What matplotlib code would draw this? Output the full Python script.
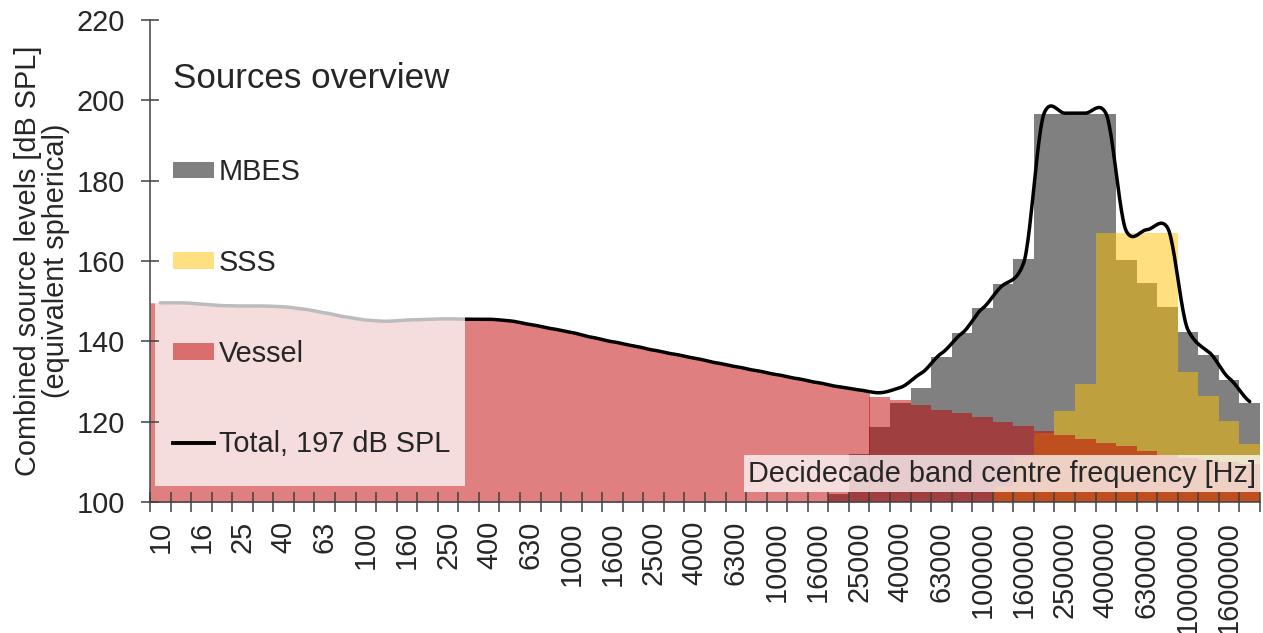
import numpy as np
import matplotlib
matplotlib.use("Agg")
import matplotlib.pyplot as plt
from matplotlib.patches import Patch, Rectangle
from matplotlib.lines import Line2D

plt.rcParams['font.family'] = ['Liberation Sans', 'DejaVu Sans']

# ---------------- data ----------------
bands = ["10", "12.5", "16", "20", "25", "31.5", "40", "50", "63", "80",
         "100", "125", "160", "200", "250", "315", "400", "500", "630", "800",
         "1000", "1250", "1600", "2000", "2500", "3150", "4000", "5000", "6300", "8000",
         "10000", "12500", "16000", "20000", "25000", "31500", "40000", "50000", "63000", "80000",
         "100000", "125000", "160000", "200000", "250000", "315000", "400000", "500000", "630000", "800000",
         "1000000", "1250000", "1600000", "2000000"]

nan = np.nan
mbes = [nan] * 33 + [102.0, 112.0, 118.7, 124.6, 128.3, 136.2, 142.0, 148.2, 154.2, 160.4,
                     196.6, 196.6, 196.6, 196.6, 160.2, 154.4, 148.6, 142.4, 136.6, 130.4, 124.6]

sss = [nan] * 41 + [104.0, 111.1, 117.2, 122.7, 129.5, 166.9, 166.9, 166.9, 166.9,
                    132.3, 126.4, 120.2, 114.4]

vessel = [149.6, 149.6, 149.3, 148.9, 148.8, 148.8, 148.6, 148.0, 147.1, 146.1,
          145.3, 145.0, 145.3, 145.5, 145.6, 145.5, 145.5, 145.1, 144.2, 143.2,
          142.2, 141.0, 139.9, 138.9, 137.8, 136.8, 135.8, 134.7, 133.7, 132.7,
          131.7, 130.7, 129.7, 128.7, 127.9,
          126.2, 125.4, 124.2, 122.9, 122.1, 121.2, 120.0, 119.0, 117.6, 116.7,
          115.8, 114.8, 113.9, 112.7, 111.7, 110.9, 110.4, 109.9, 109.4]
vessel_area_bands = 35   # bands drawn as a continuous area, the rest as steps

total = [149.6, 149.6, 149.3, 148.9, 148.8, 148.8, 148.6, 148.0, 147.1, 146.1,
         145.3, 145.0, 145.3, 145.5, 145.6, 145.5, 145.5, 145.1, 144.2, 143.2,
         142.2, 141.0, 139.9, 138.9, 137.8, 136.8, 135.8, 134.7, 133.7, 132.7,
         131.7, 130.7, 129.7, 128.7, 127.9, 127.2, 128.5, 132.0, 137.0, 142.0,
         148.2, 154.0, 159.5, 196.8, 196.8, 196.8, 196.8, 167.4, 167.8, 168.3,
         142.8, 137.4, 130.8, 125.0]

series_labels = ["MBES", "SSS", "Vessel", "Total, 197 dB SPL"]
yticks = [100, 120, 140, 160, 180, 200, 220]

# ---------------- helpers ----------------
def smooth(x, y, tension=0.65, n=24):
    x = np.asarray(x, float)
    y = np.asarray(y, float)
    m = np.empty_like(y)
    m[1:-1] = (y[2:] - y[:-2]) / 2.0
    m[0] = y[1] - y[0]
    m[-1] = y[-1] - y[-2]
    m *= tension
    t = np.linspace(0, 1, n, endpoint=False)
    h00 = 2 * t**3 - 3 * t**2 + 1
    h10 = t**3 - 2 * t**2 + t
    h01 = -2 * t**3 + 3 * t**2
    h11 = t**3 - t**2
    xs, ys = [], []
    for i in range(len(x) - 1):
        xs.append(x[i] + t * (x[i + 1] - x[i]))
        ys.append(h00 * y[i] + h10 * m[i] + h01 * y[i + 1] + h11 * m[i + 1])
    xs.append([x[-1]])
    ys.append([y[-1]])
    return np.concatenate(xs), np.concatenate(ys)


def stairs_part(ax, values, **kw):
    v = np.asarray(values, float)
    idx = np.where(np.isfinite(v))[0]
    start, stop = idx[0], idx[-1] + 1
    edges = np.arange(start, stop + 1) - 0.5
    ax.stairs(v[start:stop], edges, baseline=100, fill=True, **kw)


# ---------------- figure ----------------
W, H = 1263, 633
fig = plt.figure(figsize=(W / 100, H / 100), dpi=100)
ax = fig.add_axes([150 / W, 1 - 502 / H, 1110 / W, 482 / H])

txt = '#262626'
axc = '#404040'
fs = 20.8

GRAY = '#808080'
YEL = '#FFC000'
RED = '#C00000'

n = len(bands)
x = np.arange(n)

# MBES (opaque grey), SSS (semi-transparent gold), Vessel (semi-transparent red)
stairs_part(ax, mbes, color=GRAY, lw=0, zorder=1)
stairs_part(ax, sss, color=YEL, alpha=0.5, lw=0, zorder=2)

va = np.asarray(vessel, float)
k = vessel_area_bands
sx, sy = smooth(x[:k], va[:k])
sx = np.concatenate([[-0.5], sx, [k - 0.5]])
sy = np.concatenate([[va[0]], sy, [va[k - 1]]])
ax.fill_between(sx, 100, sy, color=RED, alpha=0.5, lw=0, zorder=2.5)
ax.stairs(va[k:], np.arange(k, n + 1) - 0.5, baseline=100, fill=True,
          color=RED, alpha=0.5, lw=0, zorder=2.5)

tx, ty = smooth(x, total)
ax.plot(tx, ty, color='black', lw=2.5, solid_capstyle='round', zorder=3)

# axes styling
ax.set_xlim(-0.5, n - 0.5)
ax.set_ylim(100, 220)
for s in ['top', 'right']:
    ax.spines[s].set_visible(False)
for s in ['left', 'bottom']:
    ax.spines[s].set_color(axc)
    ax.spines[s].set_linewidth(1.1)
    ax.spines[s].set_zorder(6)

ax.set_xticks(x)
ax.set_xticklabels([b if i % 2 == 0 else '' for i, b in enumerate(bands)],
                   rotation=90, fontsize=fs, color=txt)
ax.set_xticks(np.arange(n + 1) - 0.5, minor=True)
ax.tick_params(axis='x', which='major', length=0, pad=13.7)
ax.tick_params(axis='x', which='minor', direction='inout', length=14.4,
               width=1.1, color=axc)

ax.set_yticks(yticks)
ax.set_yticklabels([str(v) for v in yticks], fontsize=fs, color=txt)
ax.tick_params(axis='y', direction='inout', length=13, width=1.1, color=axc, pad=11.5)

ax.set_ylabel("Combined source levels [dB SPL]\n(equivalent spherical)",
              fontsize=fs, color=txt, labelpad=5, linespacing=1.0)

ax.set_xlabel("Decidecade band centre frequency [Hz]", fontsize=fs, color=txt,
              ha='right', va='center',
              bbox=dict(boxstyle='square,pad=0.15', fc='white', ec='none', alpha=0.74))
ax.xaxis.set_label_coords((1256 - 150) / 1110, (502 - 473.5) / 482)
ax.xaxis.set_zorder(6)
ax.yaxis.set_zorder(6)

# legend background box
ax.add_patch(Rectangle(((155 - 150) / 1110, (502 - 486) / 482),
                       (465 - 155) / 1110, (486 - 45) / 482,
                       transform=ax.transAxes, fc='white', ec='none', alpha=0.74,
                       zorder=4))

handles = [Patch(facecolor=GRAY, lw=0),
           Patch(facecolor=YEL, alpha=0.5, lw=0),
           Patch(facecolor=RED, alpha=0.5, lw=0),
           Line2D([], [], color='black', lw=2.8)]
leg = ax.legend(handles, series_labels, title="Sources overview",
                loc='upper left', bbox_to_anchor=((173 - 150) / 1110, (502 - 62.5) / 482),
                frameon=False, fontsize=fs, title_fontsize=25.2, alignment='left',
                handlelength=1.42, handleheight=0.52, handletextpad=0.17,
                labelspacing=2.17, borderpad=0, borderaxespad=0)
for t in leg.get_texts():
    t.set_color(txt)
leg.get_title().set_color(txt)
leg.set_zorder(5)

fig.savefig("out.png", dpi=100)
